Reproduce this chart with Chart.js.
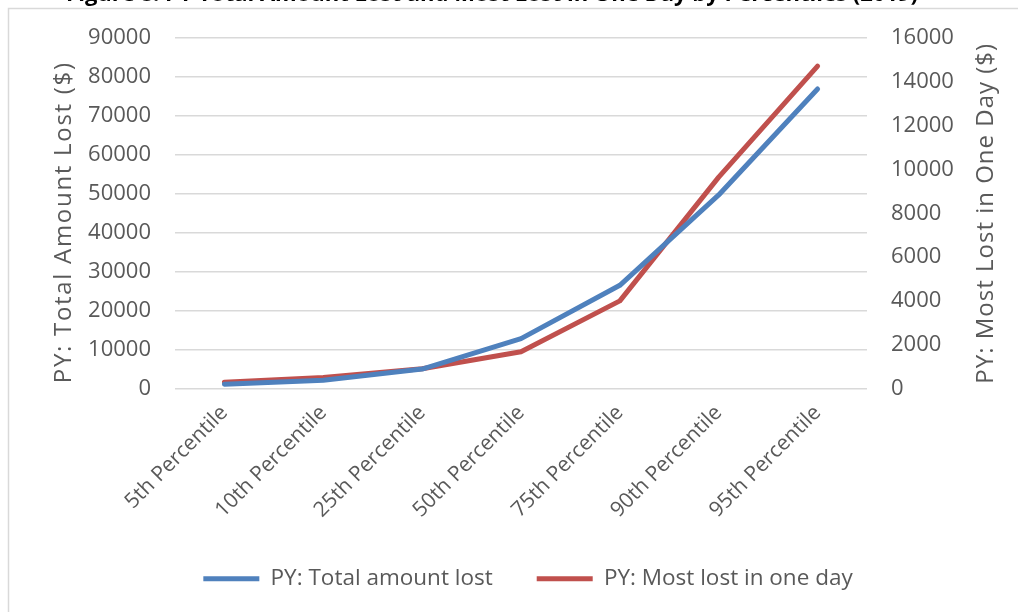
<!DOCTYPE html>
<html>
<head>
<meta charset="utf-8">
<script src="https://cdn.jsdelivr.net/npm/chart.js@4/dist/chart.umd.min.js"></script>
<style>
  html, body { margin: 0; padding: 0; background: #ffffff; }
  #wrap { width: 1018px; height: 612px; position: relative; }
</style>
</head>
<body>
<div id="wrap"><canvas id="lossChart"></canvas></div>
<script>
const categories = ["5th Percentile", "10th Percentile", "25th Percentile", "50th Percentile",
  "75th Percentile", "90th Percentile", "95th Percentile"];
const totalLost = [1100, 2100, 5000, 12800, 26500, 49700, 76900];
const mostLostOneDay = [290, 500, 900, 1680, 4000, 9650, 14720];
const leftTicks = [0, 10000, 20000, 30000, 40000, 50000, 60000, 70000, 80000, 90000];
const rightTicks = [0, 2000, 4000, 6000, 8000, 10000, 12000, 14000, 16000];
const leftTitle = 'PY: Total Amount Lost ($)';
const rightTitle = 'PY: Most Lost in One Day ($)';

const textColor = '#595959';
const gridColor = '#d9d9d9';
const fontName = "'Open Sans', sans-serif";

// frame, cut-off caption at the top
const framePlugin = {
  id: 'frame',
  beforeDraw(chart) {
    const ctx = chart.ctx;
    ctx.save();
    ctx.fillStyle = '#ffffff';
    ctx.fillRect(0, 0, chart.width, chart.height);
    ctx.strokeStyle = '#d9d9d9';
    ctx.lineWidth = 1.5;
    ctx.strokeRect(8.5, 8.5, chart.width + 20, chart.height + 20);
    ctx.fillStyle = '#000000';
    ctx.font = "bold 22px 'Open Sans', sans-serif";
    ctx.textAlign = 'center';
    ctx.textBaseline = 'alphabetic';
    ctx.fillText('Figure 8: PY Total Amount Lost and Most Lost in One Day by Percentiles (2019)', 492, 1);
    ctx.restore();
  }
};

// both axis titles read bottom-to-top, like the original
const axisTitles = {
  id: 'axisTitles',
  afterDraw(chart) {
    const ctx = chart.ctx;
    const mid = (chart.chartArea.top + chart.chartArea.bottom) / 2;
    ctx.save();
    ctx.fillStyle = textColor;
    ctx.font = "24px 'Open Sans', sans-serif";
    ctx.textAlign = 'center';
    ctx.textBaseline = 'middle';
    [[64, mid + 9, leftTitle, '1.7px'], [986, mid, rightTitle, '1px']].forEach(([x, y, t, sp]) => {
      ctx.save();
      ctx.letterSpacing = sp;
      ctx.translate(x, y);
      ctx.rotate(-Math.PI / 2);
      ctx.fillText(t, 0, 0);
      ctx.restore();
    });
    ctx.restore();
  }
};

new Chart(document.getElementById('lossChart'), {
  type: 'line',
  data: {
    labels: categories,
    datasets: [{
      label: 'PY: Total amount lost',
      data: totalLost,
      yAxisID: 'y',
      borderColor: '#4f81bd',
      backgroundColor: '#4f81bd',
      borderWidth: 5,
      borderCapStyle: 'round',
      borderJoinStyle: 'round',
      pointRadius: 0,
      pointStyle: 'line',
      tension: 0
    }, {
      label: 'PY: Most lost in one day',
      data: mostLostOneDay,
      yAxisID: 'y1',
      borderColor: '#c0504d',
      backgroundColor: '#c0504d',
      borderWidth: 5,
      borderCapStyle: 'round',
      borderJoinStyle: 'round',
      pointRadius: 0,
      pointStyle: 'line',
      tension: 0
    }]
  },
  options: {
    responsive: true,
    maintainAspectRatio: false,
    animation: false,
    layout: { padding: { top: 38, bottom: 12, left: 38, right: 0 } },
    plugins: {
      tooltip: { enabled: false },
      legend: {
        position: 'bottom',
        labels: {
          usePointStyle: true,
          pointStyleWidth: 56,
          boxHeight: 6,
          color: textColor,
          padding: 44,
          font: { family: fontName, size: 22.5 }
        }
      }
    },
    scales: {
      x: {
        offset: true,
        grid: { display: false, drawTicks: false },
        border: { display: false },
        ticks: {
          color: textColor,
          font: { family: fontName, size: 21 },
          minRotation: 45,
          maxRotation: 45,
          padding: 12
        },
        afterFit: s => { s.height = 135; }
      },
      y: {
        position: 'left',
        min: 0,
        max: 90000,
        afterBuildTicks: s => { s.ticks = leftTicks.map(v => ({ value: v })); },
        grid: { color: gridColor, lineWidth: 1.5, drawTicks: false },
        border: { display: false },
        ticks: {
          color: textColor,
          font: { family: fontName, size: 22 },
          padding: 24,
          callback: v => String(v)
        },
        afterFit: s => { s.width = 137; }
      },
      y1: {
        position: 'right',
        min: 0,
        max: 16000,
        afterBuildTicks: s => { s.ticks = rightTicks.map(v => ({ value: v })); },
        grid: { display: false, drawTicks: false },
        border: { display: false },
        ticks: {
          color: textColor,
          font: { family: fontName, size: 22 },
          padding: 24,
          callback: v => String(v)
        },
        afterFit: s => { s.width = 151; }
      }
    }
  },
  plugins: [framePlugin, axisTitles]
});
</script>
</body>
</html>
